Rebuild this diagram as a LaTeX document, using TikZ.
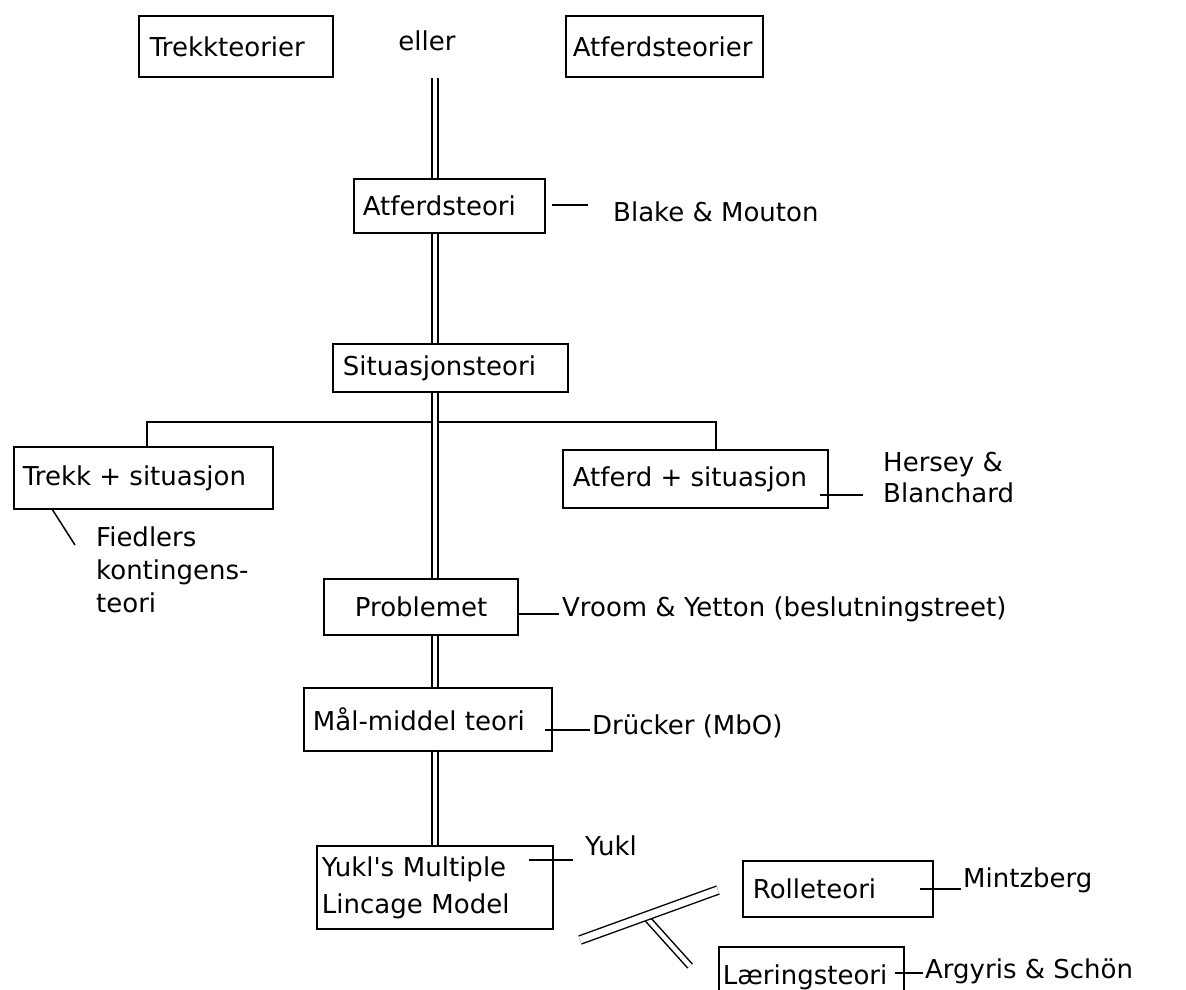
\documentclass[tikz,border=0pt]{standalone}
\usepackage{fontspec}
\setmainfont{DejaVu Sans}
\hyphenpenalty=10000
\exhyphenpenalty=10000
% box text set flush left in a field of fixed width
\newcommand\boxtxt[2]{\makebox[#1][l]{#2}}
\begin{document}
\begin{tikzpicture}[x=1pt,y=-1pt,
  every node/.style={inner sep=0pt,font=\fontsize{26}{31}\selectfont},
  box/.style={draw,line width=1.8pt,anchor=north west,inner xsep=#1},
  box/.default=9pt,
  lbl/.style={anchor=base west},
  link/.style={line width=1.8pt},
  dbl/.style={double,line width=1.5pt,double distance=4.5pt},
  dbldiag/.style={double,line width=1.4pt,double distance=7pt}]
\useasboundingbox (0,0) rectangle (1186,989);
\clip (0,0) rectangle (1186,989);

% top row
\node[box=11pt,minimum height=61pt] (trekkteorier) at (138,15) {\boxtxt{172pt}{Trekkteorier}};
\node[anchor=base] (eller) at (427,50) {eller};
\node[box=7pt,minimum height=61pt] (atferdsteorier) at (565,15) {\boxtxt{183pt}{Atferdsteorier}};
\coordinate (stem) at (435,78);

% main column
\node[box=9pt,minimum height=54pt] (atferdsteori) at (353,178) {\boxtxt{173pt}{Atferdsteori}};
\node[lbl] (blake) at (613,221) {Blake \& Mouton};
\node[box=10pt,minimum height=48pt] (situasjonsteori) at (332,343) {\boxtxt{215pt}{Situasjonsteori}};

% fork
\coordinate (forkL) at (147,422);
\coordinate (forkR) at (716,422);
\node[box=9pt,minimum height=62pt] (trekksit) at (13,446) {\boxtxt{241pt}{Trekk + situasjon}};
\node[box=10pt,minimum height=58pt] (atferdsit) at (562,449) {\boxtxt{245pt}{Atferd + situasjon}};
\node[anchor=north west,align=left] (hersey) at (883,452) {Hersey \&\\Blanchard};
\node[anchor=north west,align=left,font=\fontsize{26}{33}\selectfont] (fiedler) at (96,527) {Fiedlers\\kontingens-\\teori};
\coordinate (fiedTop) at (52,509);
\coordinate (fiedEnd) at (75,545);

\node[box=31pt,minimum height=56pt] (problemet) at (323,578) {\boxtxt{132pt}{Problemet}};
\node[lbl] (vroom) at (562,616) {Vroom \& Yetton (beslutningstreet)};
\node[box=9pt,minimum height=63pt] (maal) at (303,687) {\boxtxt{230pt}{Mål-middel teori}};
\node[lbl] (drucker) at (592,734) {Drücker (MbO)};
\node[box=5pt,minimum height=83pt,text width=226pt,align=left,font=\fontsize{26}{37}\selectfont] (yukl) at (316,845) {Yukl\textquotesingle s Multiple\\Lincage Model};
\node[lbl] (yuklname) at (585,855) {Yukl};

% branch to role and learning theories
\node[box=10pt,minimum height=56pt] (rolle) at (742,860) {\boxtxt{170pt}{Rolleteori}};
\node[lbl] (mintzberg) at (963,887) {Mintzberg};
\node[box=4pt,minimum height=60pt] (laering) at (718,946) {\boxtxt{177pt}{Læringsteori}};
\node[lbl] (argyris) at (925,978) {Argyris \& Schön};
\coordinate (dA) at (580,940);
\coordinate (dB) at (718,890);
\coordinate (bA) at (645,916);
\coordinate (bB) at (690,966);

% heights of the side connectors
\coordinate (blakeY) at (0,205);
\coordinate (herseyY) at (0,495);
\coordinate (vroomY) at (0,614);
\coordinate (druckerY) at (0,730);
\coordinate (yuklY) at (0,860);
\coordinate (mintzY) at (0,889);
\coordinate (argY) at (0,973);

% fork lines (drawn before the double stem so the stem sits on top)
\draw[link] (trekksit.north -| forkL) -- (forkL) -- (forkR) -- (atferdsit.north -| forkR);

% double stem
\draw[dbl] (stem) -- (stem |- atferdsteori.north);
\draw[dbl] (atferdsteori.south -| stem) -- (situasjonsteori.north -| stem);
\draw[dbl] (situasjonsteori.south -| stem) -- (problemet.north -| stem);
\draw[dbl] (problemet.south -| stem) -- (maal.north -| stem);
\draw[dbl] (maal.south -| stem) -- (yukl.north -| stem);

% side connectors
\draw[link] ([xshift=6pt]atferdsteori.east |- blakeY) -- ([xshift=-25pt]blake.west |- blakeY);
\draw[link] ([xshift=-9pt]atferdsit.east |- herseyY) -- ([xshift=-20pt]hersey.west |- herseyY);
\draw[line width=1.5pt] (fiedTop) -- (fiedEnd);
\draw[link] (problemet.east |- vroomY) -- ([xshift=-3pt]vroom.west |- vroomY);
\draw[link] ([xshift=-8pt]maal.east |- druckerY) -- ([xshift=-2pt]drucker.west |- druckerY);
\draw[link] ([xshift=-25pt]yukl.east |- yuklY) -- ([xshift=-12pt]yuklname.west |- yuklY);
\draw[link] ([xshift=-14pt]rolle.east |- mintzY) -- ([xshift=-2pt]mintzberg.west |- mintzY);
\draw[link] ([xshift=-10pt]laering.east |- argY) -- ([xshift=-2pt]argyris.west |- argY);

% diagonal double bar with its branch
\draw[dbl] (bA) -- (bB);
\draw[dbldiag] (dA) -- (dB);
\end{tikzpicture}
\end{document}
